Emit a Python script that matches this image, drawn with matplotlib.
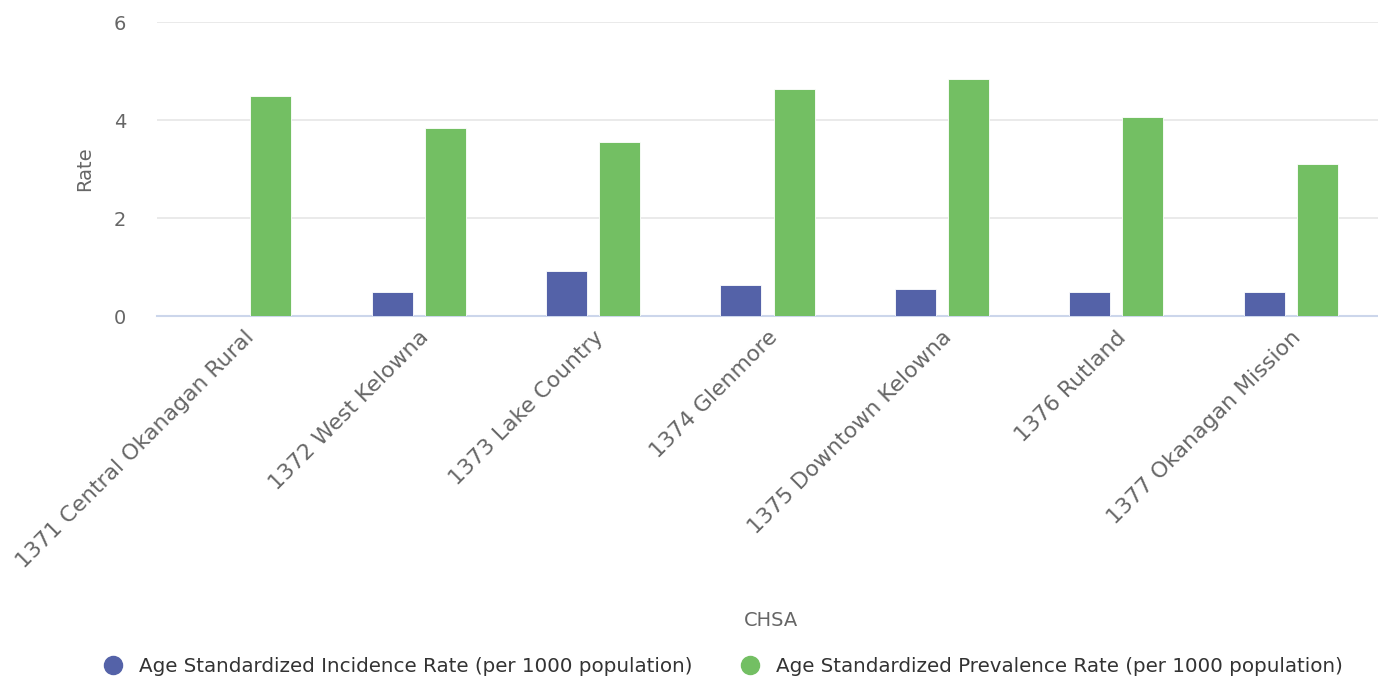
import numpy as np
import matplotlib.pyplot as plt
from matplotlib.lines import Line2D

plt.rcParams['font.family'] = ['DejaVu Sans']

# data
chsa = ['1371 Central Okanagan Rural', '1372 West Kelowna', '1373 Lake Country',
        '1374 Glenmore', '1375 Downtown Kelowna', '1376 Rutland', '1377 Okanagan Mission']
incidence = [0.0, 0.48, 0.91, 0.63, 0.55, 0.48, 0.48]
prevalence = [4.49, 3.83, 3.56, 4.64, 4.83, 4.06, 3.11]
yticks = [0, 2, 4, 6]

blue = '#5462a8'
green = '#73bf63'
text_col = '#666666'

fig = plt.figure(figsize=(13.78, 6.79), dpi=100)
ax = fig.add_axes([157 / 1378, 1 - 316 / 679, (1378 - 157) / 1378, (316 - 22) / 679])

x = np.arange(len(chsa))
w = 0.235
off = 0.152
ax.bar(x - off, incidence, w, color=blue, edgecolor='white', linewidth=0.6, zorder=3)
ax.bar(x + off, prevalence, w, color=green, edgecolor='white', linewidth=0.6, zorder=3)

ax.set_xlim(-0.5, len(chsa) - 0.5)
ax.set_ylim(0, 6)
ax.set_yticks(yticks)
ax.yaxis.grid(True, color='#e6e6e6', linewidth=1.2, zorder=0)
for s in ['top', 'right', 'left']:
    ax.spines[s].set_visible(False)
ax.spines['bottom'].set_color('#ccd6eb')
ax.spines['bottom'].set_linewidth(1.5)
ax.tick_params(axis='y', length=0, pad=22, labelsize=14, labelcolor=text_col)
ax.tick_params(axis='x', length=0, pad=8, labelsize=15.8, labelcolor=text_col)
ax.set_xticks(x)
ax.set_xticklabels(chsa, rotation=45, ha='right', va='top', rotation_mode='anchor')

fig.text(85 / 1378, 1 - 169 / 679, 'Rate', rotation=90, ha='center', va='center',
         fontsize=14, color=text_col)
fig.text(771 / 1378, 1 - 621 / 679, 'CHSA', ha='center', va='center',
         fontsize=14, color=text_col)

handles = [Line2D([], [], marker='o', linestyle='', markersize=13, color=blue),
           Line2D([], [], marker='o', linestyle='', markersize=13, color=green)]
labels = ['Age Standardized Incidence Rate (per 1000 population)',
          'Age Standardized Prevalence Rate (per 1000 population)']
fig.legend(handles, labels, loc='center', bbox_to_anchor=(718 / 1378, 1 - 666 / 679), ncol=2,
           frameon=False, columnspacing=1.9, handletextpad=0.3,
           prop={'size': 14.3}, labelcolor='#333333')

fig.savefig('out.png', dpi=100)
